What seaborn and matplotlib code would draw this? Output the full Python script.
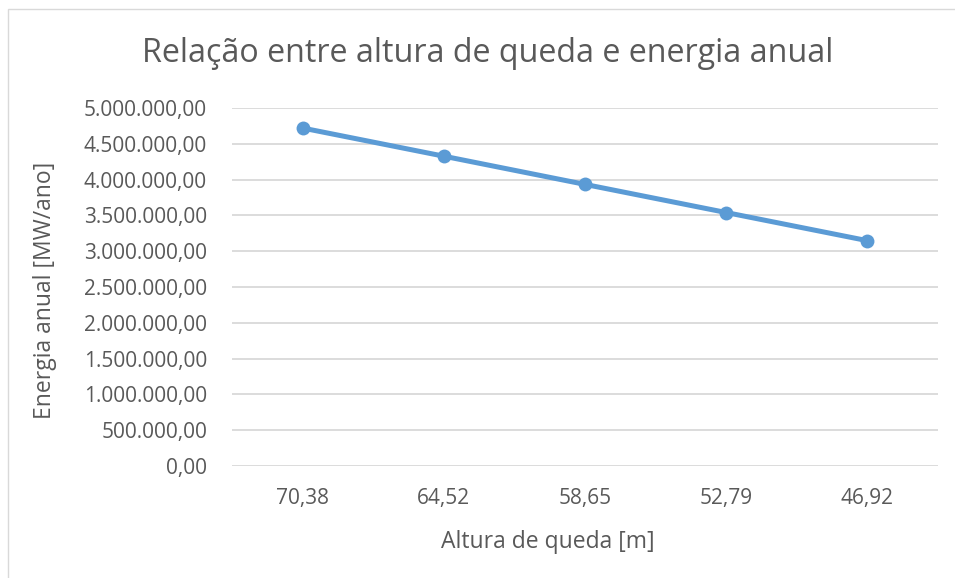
import seaborn as sns
import matplotlib.pyplot as plt
import matplotlib.ticker as mticker
import pandas as pd

# Data
alturas = ["70,38", "64,52", "58,65", "52,79", "46,92"]
energia = [4720000, 4327000, 3933000, 3540000, 3147000]
y_ticks = list(range(0, 5000001, 500000))

df = pd.DataFrame({"Altura": alturas, "Energia": energia})

sns.set_theme(style="white")
plt.rcParams["font.family"] = ["Open Sans", "DejaVu Sans"]
txt = "#595959"

fig = plt.figure(figsize=(9.55, 5.78), dpi=100)
ax = fig.add_axes([232 / 955, 1 - 466 / 578, (938 - 232) / 955, (466 - 108) / 578])

sns.lineplot(data=df, x="Altura", y="Energia", sort=False, ax=ax,
             color="#5B9BD5", linewidth=3.6, marker="o", markersize=10,
             markeredgewidth=0, zorder=3)

def br_fmt(v, pos):
    s = f"{v:,.2f}"
    return s.replace(",", "X").replace(".", ",").replace("X", ".")

ax.set_ylim(0, 5000000)
ax.set_yticks(y_ticks)
ax.yaxis.set_major_formatter(mticker.FuncFormatter(br_fmt))
ax.set_xlim(-0.5, len(alturas) - 0.5)
ax.grid(axis="y", color="#D9D9D9", linewidth=1.3)
ax.set_axisbelow(True)
for s in ax.spines.values():
    s.set_visible(False)
ax.tick_params(axis="both", length=0, labelsize=15, colors=txt)
ax.tick_params(axis="y", pad=18)
ax.tick_params(axis="x", pad=16)

ax.set_xlabel("Altura de queda [m]", fontsize=16.5, color=txt)
ax.set_ylabel("Energia anual [MW/ano]", fontsize=16.5, color=txt)
ax.xaxis.set_label_coords((548 - 232) / 706, (466 - 542) / 358)
ax.yaxis.set_label_coords((45 - 232) / 706, (466 - 290) / 358)
ax.xaxis.label.set_va("center")
ax.yaxis.label.set_va("center")
fig.text(487.5 / 955, 1 - 54 / 578, "Relação entre altura de queda e energia anual",
         ha="center", va="center", fontsize=23.2, color=txt)

# chart area border
fig.patches.append(plt.Rectangle((8 / 955, -0.05), 1.1, 1 - 9 / 578 + 0.05,
                                 transform=fig.transFigure, fill=False,
                                 edgecolor="#D9D9D9", linewidth=1))

plt.savefig("out.png", dpi=100)
